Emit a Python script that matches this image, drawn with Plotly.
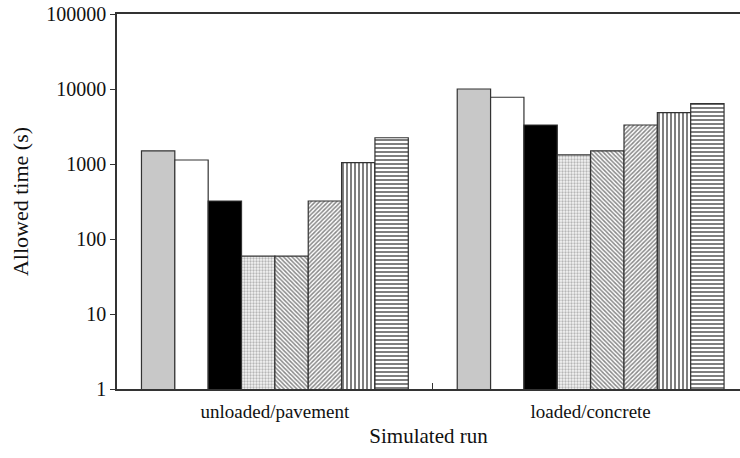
import plotly.graph_objects as go

categories = ["unloaded/pavement", "loaded/concrete"]
series_names = ["S1", "S2", "S3", "S4", "S5", "S6", "S7", "S8"]
series_values = [
    [1500, 10000],
    [1130, 7760],
    [321, 3310],
    [59, 1320],
    [59, 1500],
    [321, 3310],
    [1040, 4830],
    [2240, 6370],
]
y_tick_vals = [1, 10, 100, 1000, 10000, 100000]
y_tick_text = ["1", "10", "100", "1000", "10000", "100000"]

fills = ["#c8c8c8", "#ffffff", "#000000", "#ffffff", "#ffffff", "#ffffff", "#ffffff", "#ffffff"]
patterns = [
    dict(shape=""),
    dict(shape=""),
    dict(shape=""),
    dict(shape=".", fgcolor="#777777", bgcolor="#f4f4f4", size=3, solidity=0.45),
    dict(shape="\\", fgcolor="#111111", bgcolor="#ffffff", size=3, solidity=0.5),
    dict(shape="/", fgcolor="#111111", bgcolor="#ffffff", size=3, solidity=0.5),
    dict(shape="|", fgcolor="#000000", bgcolor="#ffffff", size=4, solidity=0.5),
    dict(shape="-", fgcolor="#000000", bgcolor="#ffffff", size=4, solidity=0.5),
]

fig = go.Figure()
for name, vals, fc, pat in zip(series_names, series_values, fills, patterns):
    fig.add_trace(go.Bar(
        x=categories, y=vals, name=name,
        marker=dict(color=fc, pattern=pat, line=dict(color="#333333", width=1.2)),
    ))

font = "Liberation Serif, Times New Roman, serif"
fig.update_layout(
    width=740, height=458,
    margin=dict(l=117, r=0, t=14, b=69),
    paper_bgcolor="white", plot_bgcolor="white",
    barmode="group", bargap=0.155, bargroupgap=0,
    showlegend=False,
    font=dict(family=font, color="#111111"),
)
fig.update_xaxes(
    range=[-0.5, 1.473],
    showline=True, linecolor="#333333", linewidth=1.5, mirror=True,
    showgrid=False, tickson="boundaries", ticks="inside", ticklen=6,
    tickcolor="#333333", tickwidth=1, ticklabelstandoff=4,
    tickfont=dict(size=19, family=font),
    title=dict(text="Simulated run", font=dict(size=21, family=font), standoff=8),
)
fig.update_yaxes(
    type="log", range=[0, 5],
    tickvals=y_tick_vals, ticktext=y_tick_text,
    showline=True, linecolor="#333333", linewidth=1.5,
    showgrid=False, ticks="outside", ticklen=5, tickcolor="#333333",
    tickfont=dict(size=20, family=font),
    title=dict(text="Allowed time (s)", font=dict(size=22, family=font), standoff=12),
)
fig.write_html("out.html")
